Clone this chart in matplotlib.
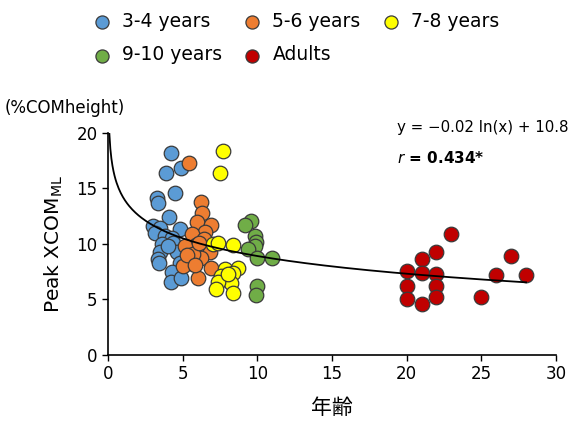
import numpy as np
import matplotlib
matplotlib.use("Agg")
import matplotlib.pyplot as plt

plt.rcParams['font.family'] = ['DejaVu Sans', 'Noto Sans CJK JP']

# data
blue_x = [4.2, 3.9, 4.9, 4.5, 3.3, 3.35, 4.1, 3.0, 3.5, 3.15, 4.8, 3.8, 4.3, 3.6,
          4.35, 3.45, 4.6, 3.35, 3.4, 4.8, 4.25, 4.2, 4.9, 4.0]
blue_y = [18.2, 16.4, 16.8, 14.6, 14.1, 13.7, 12.4, 11.6, 11.4, 11.0, 11.3, 10.7, 10.5, 10.0,
          10.1, 9.3, 9.3, 8.6, 8.3, 8.3, 7.5, 6.6, 6.9, 9.8]
orange_x = [5.4, 6.25, 6.3, 5.95, 6.9, 6.5, 5.6, 6.4, 5.9, 5.15, 6.8, 6.25, 5.5, 5.0,
            6.9, 6.0, 5.7, 5.3, 6.1, 5.8]
orange_y = [17.3, 13.8, 12.8, 12.0, 11.7, 11.1, 10.9, 10.4, 9.9, 9.8, 9.3, 8.7, 8.3, 8.0,
            7.8, 6.9, 9.1, 9.0, 10.1, 8.1]
yellow_x = [7.7, 7.5, 7.0, 7.35, 8.35, 7.8, 8.7, 8.35, 7.55, 8.2, 7.35, 7.25, 8.35, 8.0]
yellow_y = [18.4, 16.4, 10.0, 10.1, 9.9, 7.7, 7.8, 7.4, 7.1, 6.5, 6.6, 5.9, 5.6, 7.3]
green_x = [9.6, 9.2, 9.85, 9.9, 9.85, 9.35, 9.95, 10.95, 9.95, 9.9]
green_y = [12.1, 11.7, 10.7, 10.2, 9.8, 9.5, 8.7, 8.7, 6.2, 5.4]
red_x = [23.0, 22.0, 21.0, 20.0, 21.0, 22.0, 20.0, 22.0, 20.0, 21.0, 22.0, 25.0, 26.0, 27.0, 28.0]
red_y = [10.9, 9.3, 8.6, 7.6, 7.4, 7.3, 6.2, 6.2, 5.0, 4.6, 5.2, 5.2, 7.2, 8.9, 7.2]

groups = [
    ("3-4 years", blue_x, blue_y, "#5b9bd5"),
    ("5-6 years", orange_x, orange_y, "#ed7d31"),
    ("7-8 years", yellow_x, yellow_y, "#ffff00"),
    ("9-10 years", green_x, green_y, "#70ad47"),
    ("Adults", red_x, red_y, "#c00000"),
]

# log trend line as drawn (y = a ln(x) + b in plot units)
fit_a = -2.3
fit_b = 14.2

fig = plt.figure(figsize=(5.69, 4.23), dpi=100)
ax = fig.add_axes([0.19, 0.161, 0.787, 0.525])

handles = []
for label, xs, ys, col in groups:
    h = ax.scatter(xs, ys, s=110, c=col, edgecolors="#3a3a3a", linewidths=0.9,
                   label=label, zorder=3)
    handles.append(h)

xc = np.linspace(0.08, 28, 400)
ax.plot(xc, fit_a * np.log(xc) + fit_b, color="black", lw=1.3, zorder=4)

ax.set_xlim(0, 30)
ax.set_ylim(0, 20)
ax.set_xticks(range(0, 31, 5))
ax.set_yticks(range(0, 21, 5))
ax.tick_params(labelsize=12, direction="out", length=4, width=1)
for s in ["top", "right"]:
    ax.spines[s].set_visible(False)
ax.spines["left"].set_linewidth(1.2)
ax.spines["bottom"].set_linewidth(1.2)

ax.set_xlabel("年齢", fontsize=15, labelpad=10, family="Noto Sans CJK JP")
ax.set_ylabel("Peak XCOM$_{\\mathregular{ML}}$", fontsize=14.5, labelpad=8)
fig.text(0.009, 0.732, "(%COMheight)", fontsize=12)

fig.text(0.698, 0.688, "y = \u22120.02 ln(x) + 10.8", fontsize=10.8)
fig.text(0.698, 0.615, "$\\it{r}$ = 0.434*", fontsize=11, fontweight="bold")

order = [0, 3, 1, 4, 2]
fig.legend([handles[i] for i in order], [groups[i][0] for i in order],
           ncol=3, loc="upper left", bbox_to_anchor=(0.163, 0.972), frameon=False,
           fontsize=13.5, borderpad=0, borderaxespad=0, handlelength=1.0,
           handletextpad=0.57, columnspacing=1.1, labelspacing=0.78,
           markerscale=0.9)

fig.savefig("out.png", dpi=100)
